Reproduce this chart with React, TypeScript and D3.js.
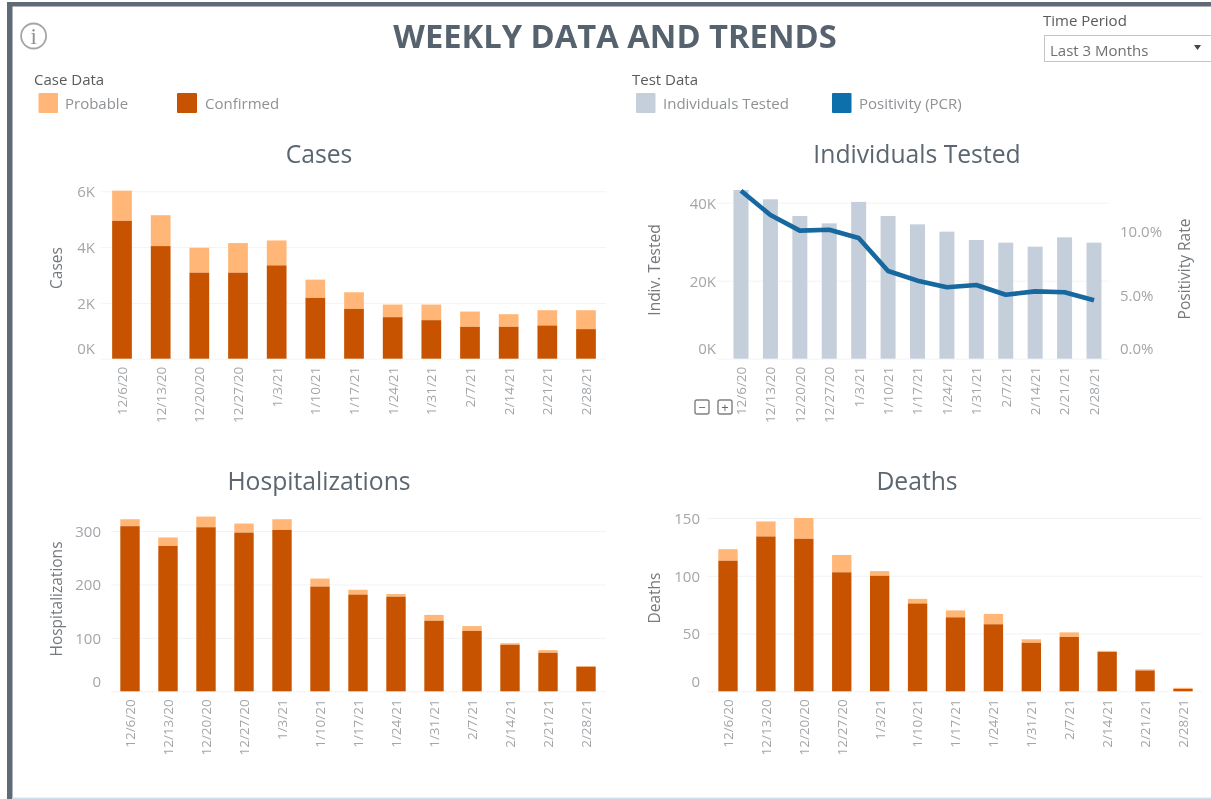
import React, { useEffect, useRef } from 'react';
import * as d3 from 'd3';

const weeks = ['12/6/20', '12/13/20', '12/20/20', '12/27/20', '1/3/21', '1/10/21', '1/17/21', '1/24/21', '1/31/21', '2/7/21', '2/14/21', '2/21/21', '2/28/21'];

const casesTotal = [6024, 5143, 3976, 4143, 4238, 2833, 2381, 1940, 1940, 1690, 1595, 1738, 1738];
const casesConfirmed = [4940, 4036, 3083, 3083, 3345, 2179, 1786, 1488, 1381, 1143, 1143, 1190, 1060];

const hospTotal = [322, 288, 327, 314, 322, 211, 190, 182, 143, 122, 90, 77, 47];
const hospConfirmed = [309, 272, 307, 297, 302, 196, 181, 177, 132, 113, 87, 72, 46];

const deathsTotal = [123, 147, 150, 118, 104, 80, 70, 67, 45, 51, 35, 19, 3];
const deathsConfirmed = [113, 134, 132, 103, 100, 76, 64, 58, 42, 47, 34, 18, 2];

const tested = [43260, 40870, 36600, 34700, 40200, 36600, 34450, 32580, 30440, 29750, 28730, 31120, 29750];
const positivity = [13.16, 11.25, 10.03, 10.1, 9.45, 6.87, 6.11, 5.59, 5.77, 5.01, 5.27, 5.2, 4.57];

const casesTicks = [0, 2000, 4000, 6000];
const hospTicks = [0, 100, 200, 300];
const deathsTicks = [0, 50, 100, 150];
const testedTicks = [0, 20000, 40000];
const positivityTicks = [0, 5, 10];

const FONT = '"Open Sans", sans-serif';
const ORANGE = '#c75300';
const PEACH = '#ffb677';
const SLATE = '#c5cfdb';
const BLUE = '#14689f';
const TITLE = '#5b6670';
const TICK = '#a3a6a9';
const AXIS_TITLE = '#74797d';
const GRID = '#f3f3f3';

const kFormat = (d: number) => `${d / 1000}K`;

// band scale whose steps sit centred on the first and last week
function weekScale(first: number, last: number, pad: number) {
  const step = (last - first) / (weeks.length - 1);
  return d3.scaleBand()
    .domain(weeks)
    .range([first - step / 2, last + step / 2])
    .paddingInner(pad)
    .paddingOuter(pad / 2);
}

// y axis with faint grid lines; Tableau pushes the zero label up inside the pane
function drawLeftAxis(g: any, y: any, ticks: number[], fmt: any, x0: number, x1: number, labelX: number) {
  const axis = d3.axisLeft(y).tickValues(ticks).tickFormat(fmt).tickSize(-(x1 - x0)).tickPadding(x0 - labelX);
  const a = g.append('g').attr('transform', `translate(${x0},0)`).call(axis);
  a.select('.domain').remove();
  a.selectAll('.tick line').attr('stroke', GRID);
  a.selectAll('.tick text')
    .attr('fill', TICK)
    .attr('font-family', FONT)
    .attr('font-size', 15)
    .attr('dy', (d: number) => (d === 0 ? '-0.33em' : '0.36em'));
}

function drawWeekAxis(g: any, x: any, baseline: number) {
  const axis = d3.axisBottom(x).tickSize(0);
  const a = g.append('g').attr('transform', `translate(0,${baseline})`).call(axis);
  a.select('.domain').remove();
  a.selectAll('.tick text')
    .attr('fill', TICK)
    .attr('font-family', FONT)
    .attr('font-size', 13.5)
    .attr('text-anchor', 'end')
    .attr('transform', 'translate(0,8) rotate(-90)')
    .attr('x', 0)
    .attr('y', 0)
    .attr('dy', '0.36em');
}

function panelText(g: any, label: string, x: number, y: number, size: number, fill: string, rotate = false) {
  g.append('text')
    .attr('transform', `translate(${x},${y})${rotate ? ' rotate(-90)' : ''}`)
    .attr('text-anchor', 'middle')
    .attr('dominant-baseline', 'central')
    .attr('font-family', FONT)
    .attr('font-size', size)
    .attr('fill', fill)
    .text(label);
}

type StackProps = {
  title: string;
  yTitle: string;
  total: number[];
  confirmed: number[];
  ticks: number[];
  fmt: (d: number) => string;
  titleX: number;
  titleY: number;
  first: number;
  last: number;
  baseline: number;
  topTick: number;
  gridX0: number;
  gridX1: number;
  labelX: number;
  yTitleX: number;
  yTitleY: number;
};

const StackedPanel = (p: StackProps) => {
  const ref = useRef<SVGGElement>(null);

  useEffect(() => {
    const g = d3.select(ref.current);
    g.selectAll('*').remove();

    const x = weekScale(p.first, p.last, 0.49);
    const maxTick = p.ticks[p.ticks.length - 1];
    const y = d3.scaleLinear().domain([0, maxTick]).range([p.baseline, p.topTick]);

    drawLeftAxis(g, y, p.ticks, p.fmt, p.gridX0, p.gridX1, p.labelX);

    g.selectAll('.prob')
      .data(weeks)
      .enter()
      .append('rect')
      .attr('x', d => x(d))
      .attr('y', (d, i) => y(p.total[i]))
      .attr('width', x.bandwidth())
      .attr('height', (d, i) => y(p.confirmed[i]) - y(p.total[i]))
      .attr('fill', PEACH);

    g.selectAll('.conf')
      .data(weeks)
      .enter()
      .append('rect')
      .attr('x', d => x(d))
      .attr('y', (d, i) => y(p.confirmed[i]))
      .attr('width', x.bandwidth())
      .attr('height', (d, i) => p.baseline - y(p.confirmed[i]))
      .attr('fill', ORANGE);

    drawWeekAxis(g, x, p.baseline);
    panelText(g, p.title, p.titleX, p.titleY, 24.7, TITLE);
    panelText(g, p.yTitle, p.yTitleX, p.yTitleY, 15.5, AXIS_TITLE, true);
  }, []);

  return <g ref={ref} />;
};

const TestedPanel = () => {
  const ref = useRef<SVGGElement>(null);

  useEffect(() => {
    const g = d3.select(ref.current);
    g.selectAll('*').remove();

    const baseline = 358.7;
    const x = weekScale(741, 1094, 0.49);
    const y = d3.scaleLinear().domain([0, 40000]).range([baseline, 202.7]);
    const yPos = d3.scaleLinear().domain([0, 10]).range([baseline, 231]);

    drawLeftAxis(g, y, testedTicks, kFormat, 717, 1108, 716);

    g.selectAll('.bar')
      .data(weeks)
      .enter()
      .append('rect')
      .attr('x', d => x(d))
      .attr('y', (d, i) => y(tested[i]))
      .attr('width', x.bandwidth())
      .attr('height', (d, i) => baseline - y(tested[i]))
      .attr('fill', SLATE);

    const line = d3.line<number>()
      .x((d, i) => x(weeks[i]) + x.bandwidth() / 2)
      .y(d => yPos(d));

    g.append('path')
      .attr('d', line(positivity))
      .attr('fill', 'none')
      .attr('stroke', BLUE)
      .attr('stroke-width', 4.6)
      .attr('stroke-linejoin', 'round');

    const right = d3.axisRight(yPos).tickValues(positivityTicks).tickFormat((d: any) => `${d.toFixed(1)}%`).tickSize(0).tickPadding(0);
    const ra = g.append('g').attr('transform', 'translate(1120,0)').call(right as any);
    ra.select('.domain').remove();
    ra.selectAll('.tick text')
      .attr('fill', TICK)
      .attr('font-family', FONT)
      .attr('font-size', 15)
      .attr('dy', (d: any) => (d === 0 ? '-0.33em' : '0.36em'));

    drawWeekAxis(g, x, baseline);
    panelText(g, 'Individuals Tested', 917, 153, 24.7, TITLE);
    panelText(g, 'Indiv. Tested', 654, 270, 15.5, AXIS_TITLE, true);
    panelText(g, 'Positivity Rate', 1184, 269, 15.5, AXIS_TITLE, true);

    // zoom buttons from the Tableau toolbar
    [['\u2212', 702], ['+', 725]].forEach(([sign, cx]: any) => {
      g.append('rect')
        .attr('x', cx - 7)
        .attr('y', 400)
        .attr('width', 14)
        .attr('height', 14)
        .attr('rx', 2)
        .attr('fill', 'none')
        .attr('stroke', '#808080')
        .attr('stroke-width', 1.4);
      g.append('text')
        .attr('x', cx)
        .attr('y', 407)
        .attr('text-anchor', 'middle')
        .attr('dominant-baseline', 'central')
        .attr('font-family', FONT)
        .attr('font-size', 13)
        .attr('fill', '#666')
        .text(sign);
    });
  }, []);

  return <g ref={ref} />;
};

const Legend = ({ x, w, color, label, tx }: { x: number; w: number; color: string; label: string; tx: number }) => (
  <g>
    <rect x={x} y={93} width={w} height={20} rx={1} fill={color} />
    <text x={tx} y={103} dominantBaseline="central" fontFamily={FONT} fontSize={15} fill="#8f9295">
      {label}
    </text>
  </g>
);

export default function App() {
  return (
    <svg width={1211} height={799} style={{ position: 'absolute', left: 0, top: 0, background: '#fff' }}>
      <defs>
        <filter id="soft" x="0" y="0" width="100%" height="100%">
          <feGaussianBlur stdDeviation="0.4" />
        </filter>
      </defs>
      <g filter="url(#soft)">
        <rect width={1211} height={799} fill="#fff" />
        <rect x={7} y={2} width={1204} height={4.5} fill="#5f6b76" />
        <rect x={7} y={2} width={5.5} height={797} fill="#5f6b76" />
        <rect x={12} y={797.6} width={1199} height={1.4} fill="#cfe0ec" />

        <circle cx={33.6} cy={36} r={12.5} fill="none" stroke="#a5a5a5" strokeWidth={1.8} />
        <text x={33.6} y={36} textAnchor="middle" dominantBaseline="central" fontFamily='"Liberation Serif", serif' fontSize={23} fill="#909090">
          i
        </text>

        <text x={615} y={35} textAnchor="middle" dominantBaseline="central" fontFamily={FONT} fontWeight={700} fontSize={32.7} fill="#56626e">
          WEEKLY DATA AND TRENDS
        </text>

        <text x={34} y={78.5} dominantBaseline="central" fontFamily={FONT} fontSize={15} fill="#5a5a5a">Case Data</text>
        <Legend x={38.5} w={19.5} color={PEACH} label="Probable" tx={65} />
        <Legend x={177} w={20} color={ORANGE} label="Confirmed" tx={205} />

        <text x={632} y={78.5} dominantBaseline="central" fontFamily={FONT} fontSize={15} fill="#5a5a5a">Test Data</text>
        <Legend x={636} w={19.5} color={SLATE} label="Individuals Tested" tx={663} />
        <Legend x={832} w={19.5} color="#1170aa" label="Positivity (PCR)" tx={859} />

        <text x={1043} y={20} dominantBaseline="central" fontFamily={FONT} fontSize={15} fill="#5a5a5a">Time Period</text>
        <rect x={1044.5} y={35.5} width={180} height={26} fill="#fff" stroke="#c4c4c4" />
        <text x={1050} y={49.5} dominantBaseline="central" fontFamily={FONT} fontSize={15} fill="#707070">Last 3 Months</text>
        <path d={d3.line()([[1194, 45], [1201, 45], [1197.5, 50]]) + 'Z'} fill="#444" />

        <StackedPanel title="Cases" yTitle="Cases" total={casesTotal} confirmed={casesConfirmed} ticks={casesTicks} fmt={kFormat}
          titleX={319} titleY={153} first={122} last={586} baseline={358.7} topTick={191.3} gridX0={101} gridX1={606} labelX={95} yTitleX={56} yTitleY={268} />
        <TestedPanel />
        <StackedPanel title="Hospitalizations" yTitle="Hospitalizations" total={hospTotal} confirmed={hospConfirmed} ticks={hospTicks} fmt={String}
          titleX={319} titleY={480} first={130} last={586} baseline={691.3} topTick={531} gridX0={111} gridX1={606} labelX={101} yTitleX={56} yTitleY={599} />
        <StackedPanel title="Deaths" yTitle="Deaths" total={deathsTotal} confirmed={deathsConfirmed} ticks={deathsTicks} fmt={String}
          titleX={917} titleY={480} first={728} last={1183} baseline={691.3} topTick={518} gridX0={707} gridX1={1202} labelX={700} yTitleX={654} yTitleY={598} />
      </g>
    </svg>
  );
}
